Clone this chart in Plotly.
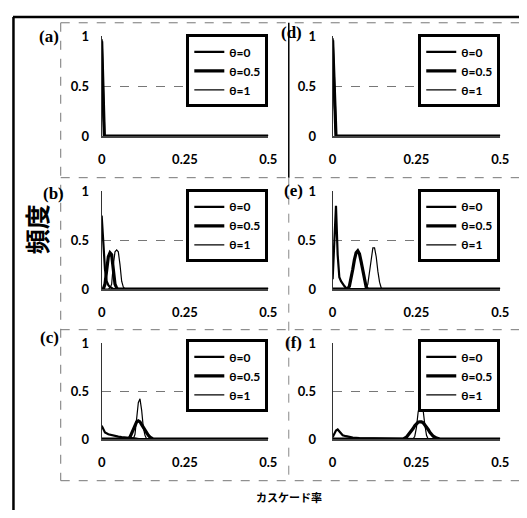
import plotly.graph_objects as go

PAGE_MARGIN = 8          # default body margin of the page
W, H = 527, 518          # window size
FW, FH = W - 2 * PAGE_MARGIN, H - 2 * PAGE_MARGIN

series_names = ["θ=0", "θ=0.5", "θ=1"]
x_tick_vals = [0, 0.25, 0.5]
x_tick_text = ["0", "0.25", "0.5"]
y_tick_vals = [0, 0.5, 1]
y_tick_text = ["0", "0.5", "1"]
panel_labels = ["(a)", "(b)", "(c)", "(d)", "(e)", "(f)"]
y_title = "頻度"
x_title = "カスケード率"

# (a)
x_a = [0, 0.004, 0.008, 0.5]
a_t0 = [0.97, 0.35, 0.0, 0.0]
a_t05 = [0.95, 0.3, 0.0, 0.0]
a_t1 = [0.93, 0.25, 0.0, 0.0]

# (b)
x_b = [0, 0.005, 0.01, 0.015, 0.02, 0.025, 0.03, 0.035, 0.04, 0.045, 0.05,
       0.055, 0.06, 0.065, 0.07, 0.075, 0.5]
b_t0 = [0.75, 0.45, 0.2, 0.08, 0.04, 0.02, 0.01, 0.0, 0.0, 0.0, 0.0,
        0.0, 0.0, 0.0, 0.0, 0.0, 0.0]
b_t05 = [0.0, 0.0, 0.05, 0.2, 0.33, 0.37, 0.35, 0.2, 0.05, 0.01, 0.0,
         0.0, 0.0, 0.0, 0.0, 0.0, 0.0]
b_t1 = [0.0, 0.0, 0.0, 0.0, 0.0, 0.01, 0.05, 0.25, 0.38, 0.4, 0.38,
        0.25, 0.08, 0.02, 0.0, 0.0, 0.0]

# (c)
x_c = [0, 0.005, 0.01, 0.02, 0.03, 0.04, 0.05, 0.06, 0.07, 0.08, 0.085, 0.09,
       0.095, 0.1, 0.105, 0.11, 0.115, 0.12, 0.125, 0.13, 0.135, 0.14, 0.145,
       0.15, 0.155, 0.16, 0.5]
c_t0 = [0.14, 0.1, 0.07, 0.05, 0.04, 0.03, 0.025, 0.02, 0.015, 0.01, 0.009, 0.008,
        0.006, 0.005, 0.004, 0.003, 0.002, 0.001, 0.0, 0.0, 0.0, 0.0, 0.0,
        0.0, 0.0, 0.0, 0.0]
c_t05 = [0.0, 0.0, 0.0, 0.0, 0.0, 0.0, 0.0, 0.0, 0.0, 0.0, 0.02, 0.06,
         0.11, 0.15, 0.18, 0.19, 0.18, 0.15, 0.12, 0.09, 0.06, 0.04, 0.02,
         0.01, 0.0, 0.0, 0.0]
c_t1 = [0.0, 0.0, 0.0, 0.0, 0.0, 0.0, 0.0, 0.0, 0.0, 0.0, 0.0, 0.0,
        0.0, 0.05, 0.2, 0.38, 0.42, 0.3, 0.12, 0.04, 0.0, 0.0, 0.0,
        0.0, 0.0, 0.0, 0.0]

# (d)
x_d = [0, 0.005, 0.01, 0.5]
d_t0 = [0.98, 0.4, 0.0, 0.0]
d_t05 = [0.96, 0.35, 0.0, 0.0]
d_t1 = [0.94, 0.3, 0.0, 0.0]

# (e)
x_e = [0, 0.005, 0.01, 0.015, 0.02, 0.025, 0.03, 0.035, 0.04, 0.045, 0.05,
       0.055, 0.06, 0.065, 0.07, 0.075, 0.08, 0.085, 0.09, 0.095, 0.1,
       0.105, 0.11, 0.115, 0.12, 0.125, 0.13, 0.135, 0.14, 0.145, 0.15, 0.5]
e_t0 = [0.1, 0.45, 0.85, 0.35, 0.12, 0.08, 0.05, 0.03, 0.01, 0.0, 0.0,
        0.0, 0.0, 0.0, 0.0, 0.0, 0.0, 0.0, 0.0, 0.0, 0.0,
        0.0, 0.0, 0.0, 0.0, 0.0, 0.0, 0.0, 0.0, 0.0, 0.0, 0.0]
e_t05 = [0.0, 0.0, 0.0, 0.0, 0.0, 0.0, 0.0, 0.0, 0.0, 0.0, 0.03,
         0.1, 0.2, 0.3, 0.37, 0.39, 0.36, 0.28, 0.18, 0.08, 0.02,
         0.0, 0.0, 0.0, 0.0, 0.0, 0.0, 0.0, 0.0, 0.0, 0.0, 0.0]
e_t1 = [0.0, 0.0, 0.0, 0.0, 0.0, 0.0, 0.0, 0.0, 0.0, 0.0, 0.0,
        0.0, 0.0, 0.0, 0.0, 0.0, 0.0, 0.0, 0.0, 0.0, 0.0,
        0.05, 0.18, 0.33, 0.42, 0.42, 0.33, 0.18, 0.07, 0.01, 0.0, 0.0]

# (f)
x_f = [0, 0.005, 0.01, 0.015, 0.02, 0.03, 0.04, 0.05, 0.06, 0.08, 0.1, 0.15,
       0.2, 0.21, 0.22, 0.23, 0.24, 0.245, 0.25, 0.255, 0.26, 0.265, 0.27,
       0.275, 0.28, 0.285, 0.29, 0.3, 0.31, 0.32, 0.5]
f_t0 = [0.02, 0.06, 0.09, 0.1, 0.08, 0.04, 0.03, 0.02, 0.015, 0.01, 0.008, 0.005,
        0.003, 0.0, 0.0, 0.0, 0.0, 0.0, 0.0, 0.0, 0.0, 0.0, 0.0,
        0.0, 0.0, 0.0, 0.0, 0.0, 0.0, 0.0, 0.0]
f_t05 = [0.0, 0.0, 0.0, 0.0, 0.0, 0.0, 0.0, 0.0, 0.0, 0.0, 0.0, 0.0,
         0.0, 0.0, 0.02, 0.06, 0.11, 0.14, 0.16, 0.175, 0.18, 0.18, 0.17,
         0.15, 0.12, 0.1, 0.07, 0.03, 0.01, 0.0, 0.0]
f_t1 = [0.0, 0.0, 0.0, 0.0, 0.0, 0.0, 0.0, 0.0, 0.0, 0.0, 0.0, 0.0,
        0.0, 0.0, 0.0, 0.0, 0.0, 0.03, 0.12, 0.28, 0.37, 0.38, 0.3,
        0.15, 0.04, 0.0, 0.0, 0.0, 0.0, 0.0, 0.0]

panels = [
    (x_a, [a_t0, a_t05, a_t1]),
    (x_b, [b_t0, b_t05, b_t1]),
    (x_c, [c_t0, c_t05, c_t1]),
    (x_d, [d_t0, d_t05, d_t1]),
    (x_e, [e_t0, e_t05, e_t1]),
    (x_f, [f_t0, f_t05, f_t1]),
]

# ---- layout geometry (page pixels -> paper fractions) ----
def px(x):
    return (x - PAGE_MARGIN) / FW

def py(y):
    return 1 - (y - PAGE_MARGIN) / FH

col_px = [(100, 271), (337, 509)]
row_px = [(29, 132), (189, 290), (346, 445)]
legend_pos = [(271, 27), (271, 187), (271, 342), (509, 27), (509, 187), (509, 342)]
label_pos = [(46, 29), (51, 191), (46, 340), (295, 25), (297, 188), (297, 345)]
ystandoff = [9, 13]

line_widths = [2.2, 3.2, 1.2]
tick_font = dict(family="Lato, sans-serif", size=13, color="black", weight="bold")
legend_font = dict(family="Lato, sans-serif", size=12, color="black", weight="bold")

fig = go.Figure()
layout = dict(
    width=FW, height=FH, margin=dict(l=0, r=0, t=0, b=0),
    paper_bgcolor="white", plot_bgcolor="white", showlegend=True,
)

for i, (xs, ys_list) in enumerate(panels):
    col, row = divmod(i, 3)
    n = i + 1
    suffix = "" if n == 1 else str(n)
    leg = "legend" if n == 1 else f"legend{n}"
    for name, ys, lw in zip(series_names, ys_list, line_widths):
        fig.add_trace(go.Scatter(
            x=xs, y=ys, mode="lines", name=name,
            line=dict(color="black", width=lw),
            xaxis="x" + suffix, yaxis="y" + suffix, legend=leg,
        ))
    x0, x1 = col_px[col]
    y0, y1 = row_px[row]
    layout["xaxis" + suffix] = dict(
        domain=[px(x0), px(x1)], anchor="y" + suffix, range=[0, 0.5],
        tickvals=x_tick_vals, ticktext=x_tick_text, showgrid=False,
        zeroline=False, showline=True, linecolor="#444", linewidth=1.5,
        ticks="", ticklabelstandoff=11, tickfont=tick_font,
    )
    layout["yaxis" + suffix] = dict(
        domain=[py(y1), py(y0)], anchor="x" + suffix, range=[0, 1],
        tickvals=y_tick_vals, ticktext=y_tick_text, showgrid=True,
        gridcolor="#777", griddash="dash", gridwidth=1,
        zeroline=False, showline=True, linecolor="#333", linewidth=1.2,
        ticks="", ticklabelstandoff=ystandoff[col], tickfont=tick_font,
    )
    lx, ly = legend_pos[i]
    layout[leg] = dict(
        x=px(lx), y=py(ly), xanchor="right", yanchor="top",
        bgcolor="white", bordercolor="black", borderwidth=3,
        font=legend_font, tracegroupgap=0, itemwidth=30,
    )

annotations = []
for lab, (lx, ly) in zip(panel_labels, label_pos):
    annotations.append(dict(
        text=lab, x=px(lx), y=py(ly), xref="paper", yref="paper",
        showarrow=False, xanchor="center", yanchor="middle",
        font=dict(family="Liberation Serif", size=17, color="black", weight="bold"),
    ))
annotations.append(dict(
    text=y_title, x=px(33), y=py(228), xref="paper", yref="paper",
    showarrow=False, textangle=-90, xanchor="center", yanchor="middle",
    font=dict(family="Noto Sans CJK JP", size=25, color="black", weight="bold"),
))
annotations.append(dict(
    text=x_title, x=px(292), y=py(505), xref="paper", yref="paper",
    showarrow=False, xanchor="center", yanchor="middle",
    font=dict(family="Noto Sans CJK JP", size=11, color="black", weight="bold"),
))
layout["annotations"] = annotations

def hline(y, xa, xb, color, width, dash):
    return dict(type="line", xref="paper", yref="paper", x0=px(xa), x1=px(xb),
                y0=py(y), y1=py(y), line=dict(color=color, width=width, dash=dash),
                layer="below")

def vline(x, ya, yb, color, width, dash):
    return dict(type="line", xref="paper", yref="paper", x0=px(x), x1=px(x),
                y0=py(ya), y1=py(yb), line=dict(color=color, width=width, dash=dash),
                layer="below")

shapes = [
    vline(9.5, 9, 530, "black", 2.5, "solid"),
    hline(9, 9, 530, "black", 2.5, "solid"),
    hline(15, 58, 530, "#777", 1, "dash"),
    hline(175, 58, 530, "#777", 1, "dash"),
    hline(332, 58, 530, "#777", 1, "dash"),
    hline(488, 58, 530, "#777", 1, "dash"),
    vline(58, 15, 488, "#777", 1, "dash"),
    vline(292, 15, 175, "black", 1.5, "solid"),
    vline(292, 175, 488, "#888", 1, "dash"),
]
layout["shapes"] = shapes

fig.update_layout(**layout)

fig.write_html("out.html", config={"displayModeBar": False})
